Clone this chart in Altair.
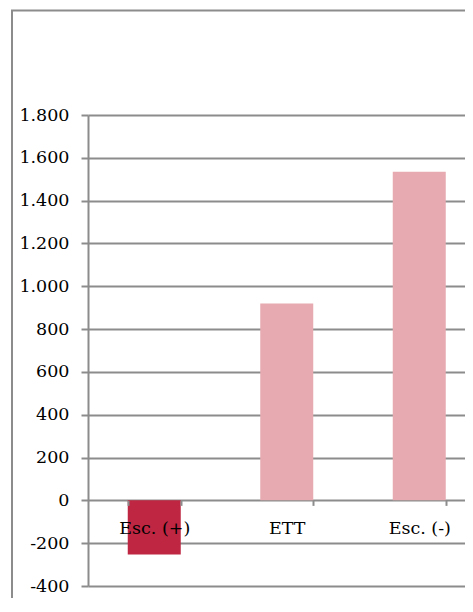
import altair as alt
import pandas as pd

categories = ["Esc. (+)", "ETT", "Esc. (-)"]
values = [-253, 920, 1535]
colors = ["#BE2642", "#E6AAB0", "#E6AAB0"]
y_ticks = [-400, -200, 0, 200, 400, 600, 800, 1000, 1200, 1400, 1600, 1800]

df = pd.DataFrame({"cat": categories, "val": values, "col": colors})

W = 377          # visible plot width (the plot continues past the window)
BAND_RANGE = 397.5
H = 471
zero_y = 1800 / 2200 * H
FONT = "DejaVu Serif"
GRAY = "#8c8c8c"

bars = alt.Chart(df).mark_bar().encode(
    x=alt.X("cat:N", sort=categories,
            scale=alt.Scale(paddingInner=0.6, paddingOuter=0.3, range=[0, BAND_RANGE]),
            axis=alt.Axis(title=None, domain=False, grid=False, tickBand="extent",
                          tickSize=5, tickWidth=2, tickColor=GRAY,
                          labelAngle=0, labelFont=FONT, labelFontSize=17.5,
                          labelColor="black", labelPadding=14,
                          offset=-(H - zero_y), zindex=1)),
    y=alt.Y("val:Q", scale=alt.Scale(domain=[-400, 1800], nice=False, zero=False),
            axis=alt.Axis(title=None, values=y_ticks, grid=True, gridColor=GRAY,
                          gridWidth=2, domain=True, domainColor=GRAY, domainWidth=2,
                          tickSize=7, tickWidth=2, tickColor=GRAY,
                          labelFont=FONT, labelFontSize=17.5, labelColor="black",
                          labelPadding=12,
                          labelExpr="(datum.value < 0 ? '-' : '') + replace(format(abs(datum.value), ','), ',', '.')")),
    color=alt.Color("col:N", scale=None, legend=None),
)

frame = alt.Chart(pd.DataFrame({"a": [0]})).mark_rect(
    fill=None, stroke=GRAY, strokeWidth=2
).encode(
    x=alt.value(-76), x2=alt.value(520),
    y=alt.value(-104.5), y2=alt.value(530),
)

chart = alt.layer(frame, bars).properties(
    width=W, height=H,
    autosize=alt.AutoSizeParams(type="none"),
    padding={"left": 80, "top": 107, "right": 0, "bottom": 12},
    background="white",
).configure_view(stroke=None)

chart.save("out.html", embed_options={"renderer": "svg", "actions": False})
